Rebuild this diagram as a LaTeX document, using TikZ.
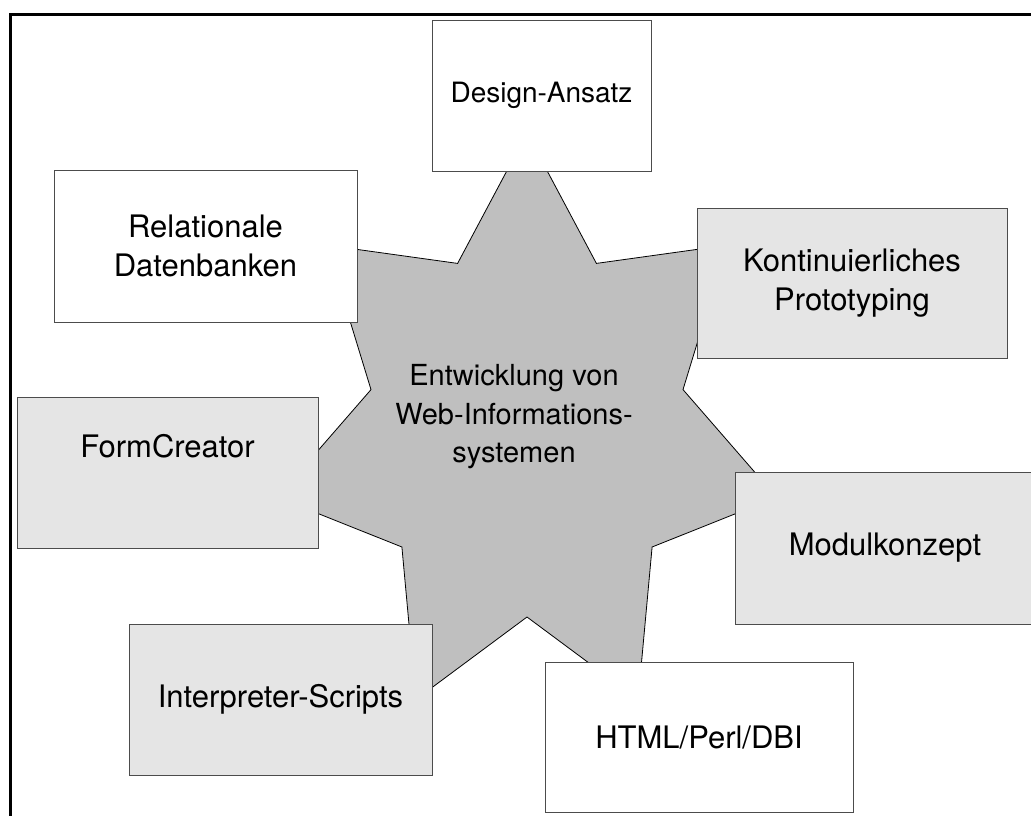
\documentclass[tikz,border=0pt]{standalone}
\usepackage{fontspec}
\setmainfont{TeX Gyre Heros}
\begin{document}
\begin{tikzpicture}[x=1pt,y=-1pt,
  every node/.style={font=\fontsize{31}{38.5}\selectfont, align=center, inner sep=0pt},
  plainbox/.style={draw=black!70, line width=1pt, fill=white},
  shadebox/.style={draw=black!70, line width=1pt, fill=black!10},
  starshape/.style={draw=black, line width=0.8pt, fill=black!25, line join=miter},
  frame/.style={line width=3pt, draw=black}]
\useasboundingbox (0,0) rectangle (1031,815);

% outer frame (only top and left edges fall inside the page)
\draw[frame] (10.5,830) -- (10.5,14.5) -- (1045,14.5);

% seven-pointed star behind the topic boxes
\draw[starshape]
  (527,133) -- (457.6,263.4) -- (326.9,245.2) -- (371,389.6)
  -- (277.4,497.3) -- (401.9,547) -- (415.9,699.5) -- (527,617)
  -- (638.1,699.5) -- (652.1,547) -- (776.6,497.3) -- (683,389.6)
  -- (727.1,245.2) -- (596.4,263.4) -- cycle;

\node[font=\fontsize{29}{38.5}\selectfont] (center) at (514,417) {Entwicklung von\\Web-Informations-\\systemen};

% topic boxes
\node[plainbox, minimum width=219, minimum height=151, font=\fontsize{28}{38.5}\selectfont] (design) at (541.5,95.5) {Design-Ansatz};
\node[plainbox, minimum width=303, minimum height=152] (relational) at (205.5,246) {Relationale\\Datenbanken};
\node[shadebox, minimum width=310, minimum height=150] (proto) at (852,283) {Kontinuierliches\\Prototyping};
\node[shadebox, minimum width=301, minimum height=151, text height=11pt, text depth=42pt] (form) at (167.5,472.5) {FormCreator};
\node[shadebox, minimum width=300, minimum height=152] (modul) at (885,548) {Modulkonzept};
\node[shadebox, minimum width=303, minimum height=151] (interp) at (280.5,699.5) {Interpreter-Scripts};
\node[plainbox, minimum width=308, minimum height=150] (html) at (699,737) {HTML/Perl/DBI};
\end{tikzpicture}
\end{document}
